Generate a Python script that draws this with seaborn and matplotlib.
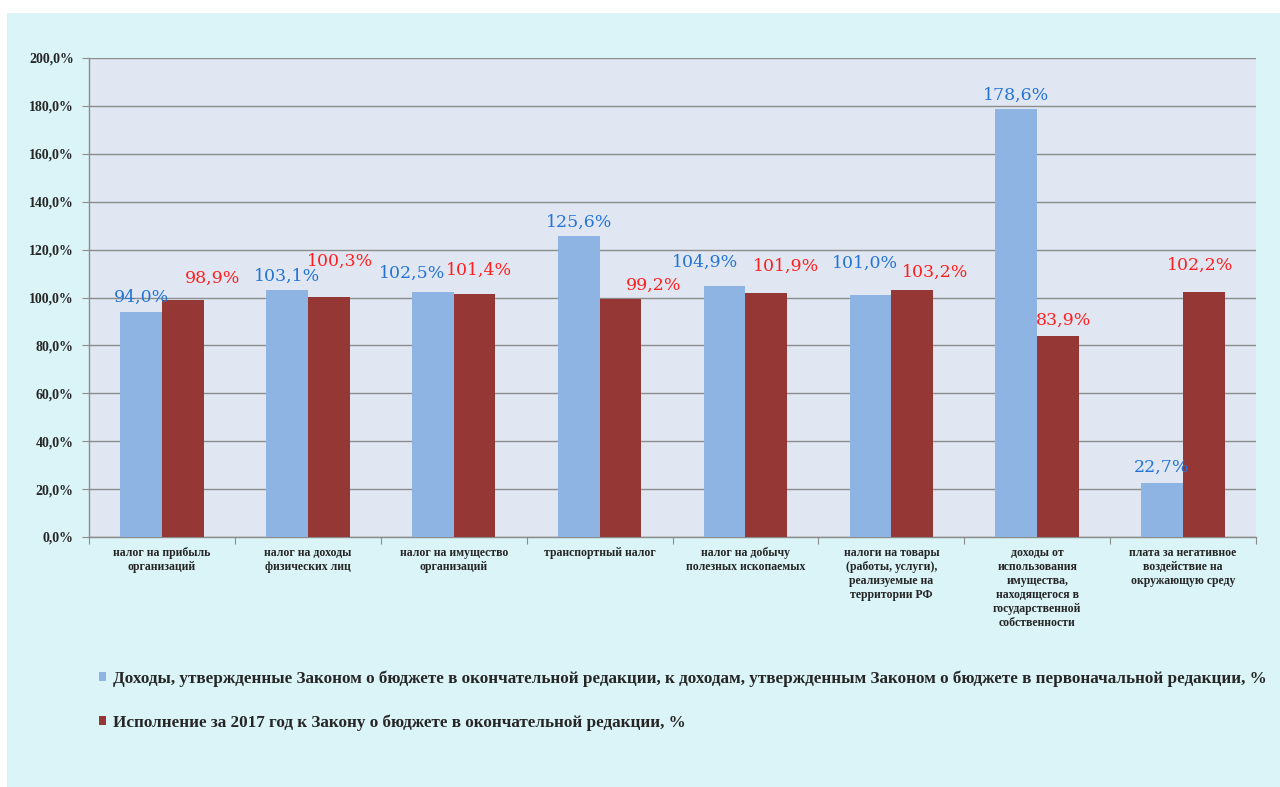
import pandas as pd
import seaborn as sns
import matplotlib.pyplot as plt
from matplotlib.patches import Rectangle

# Data
categories = [
    "налог на прибыль\nорганизаций",
    "налог на доходы\nфизических лиц",
    "налог на имущество\nорганизаций",
    "транспортный налог",
    "налог на добычу\nполезных ископаемых",
    "налоги на товары\n(работы, услуги),\nреализуемые на\nтерритории РФ",
    "доходы от\nиспользования\nимущества,\nнаходящегося в\nгосударственной\nсобственности",
    "плата за негативное\nвоздействие на\nокружающую среду",
]
series_names = [
    "Доходы, утвержденные Законом о бюджете в окончательной редакции, к доходам, "
    "утвержденным Законом о бюджете в первоначальной редакции, %",
    "Исполнение за 2017 год к Закону о бюджете в окончательной редакции, %",
]
approved = [94.0, 103.1, 102.5, 125.6, 104.9, 101.0, 178.6, 22.7]
executed = [98.9, 100.3, 101.4, 99.2, 101.9, 103.2, 83.9, 102.2]

# label nudges in pixels (dx, dy above bar top), as placed in the original
approved_off = [(0, 15), (0, 14), (-21, 18), (0, 14), (-20, 23), (-5, 32), (0, 14), (-1, 15)]
executed_off = [(30, 22), (11, 35), (4, 24), (33, 14), (20, 27), (23, 18), (6, 16), (-4, 27)]

df = pd.DataFrame({
    "Категория": categories * 2,
    "Серия": [series_names[0]] * len(categories) + [series_names[1]] * len(categories),
    "Значение": approved + executed,
})

sns.set_style("white")
plt.rcParams["font.family"] = ["Liberation Serif", "DejaVu Serif"]

fig = plt.figure(figsize=(12.8, 7.87), dpi=100, facecolor="white")
fig.patches.append(Rectangle((7 / 1280, 0), 1, (787 - 13) / 787, transform=fig.transFigure,
                             facecolor="#daf4f8", edgecolor="none", zorder=-10))
ax = fig.add_axes([89 / 1280, (787 - 537) / 787, (1256 - 89) / 1280, (537 - 58) / 787])
ax.set_facecolor("#e0e7f3")

sns.barplot(data=df, x="Категория", y="Значение", hue="Серия",
            palette=["#8eb4e3", "#953735"], width=0.572, saturation=1,
            linewidth=0, ax=ax, legend=True, zorder=3)

ax.set_ylim(0, 200)
ax.set_xlim(-0.5, len(categories) - 0.5)
ax.set_yticks(range(0, 201, 20))
ax.set_yticklabels([f"{v},0%" for v in range(0, 201, 20)], fontsize=10, fontweight="bold")
ax.yaxis.grid(True, color="#8c8c8c", linewidth=1, zorder=0)
ax.set_axisbelow(True)
ax.tick_params(axis="y", length=5, color="#8c8c8c", left=True, pad=6)

# category boundaries as ticks, labels as minor
ax.set_xticks([i - 0.5 for i in range(len(categories) + 1)])
ax.set_xticklabels([])
ax.set_xticks(range(len(categories)), minor=True)
ax.set_xticklabels(categories, minor=True, fontsize=8.5, fontweight="bold",
                   va="top", ha="center", linespacing=1.22)
ax.tick_params(axis="x", which="major", length=5, color="#8c8c8c", bottom=True)
ax.tick_params(axis="x", which="minor", length=0, pad=7)
ax.set_xlabel("")
ax.set_ylabel("")

for side in ["top", "right"]:
    ax.spines[side].set_visible(False)
for side in ["left", "bottom"]:
    ax.spines[side].set_color("#8c8c8c")
    ax.spines[side].set_linewidth(1)

# data labels
for i in range(len(categories)):
    for vals, offs, dodge, col in [(approved, approved_off, -0.143, "#2474d6"),
                                   (executed, executed_off, 0.143, "#ff2020")]:
        ax.annotate(f"{vals[i]:.1f}%".replace(".", ","), (i + dodge, vals[i]),
                    xytext=offs[i], textcoords="offset pixels",
                    ha="center", va="center", fontsize=12.5, color=col, zorder=5,
                    family="DejaVu Serif")

handles, labels = ax.get_legend_handles_labels()
ax.get_legend().remove()
fig.legend(handles, labels, loc="upper left", bbox_to_anchor=(84 / 1280, (787 - 655) / 787),
           frameon=False, prop={"weight": "bold", "size": 12.3},
           handlelength=0.4, handleheight=0.4, handletextpad=0.4, labelspacing=1.6)

fig.savefig("out.png", dpi=100, facecolor=fig.get_facecolor())
